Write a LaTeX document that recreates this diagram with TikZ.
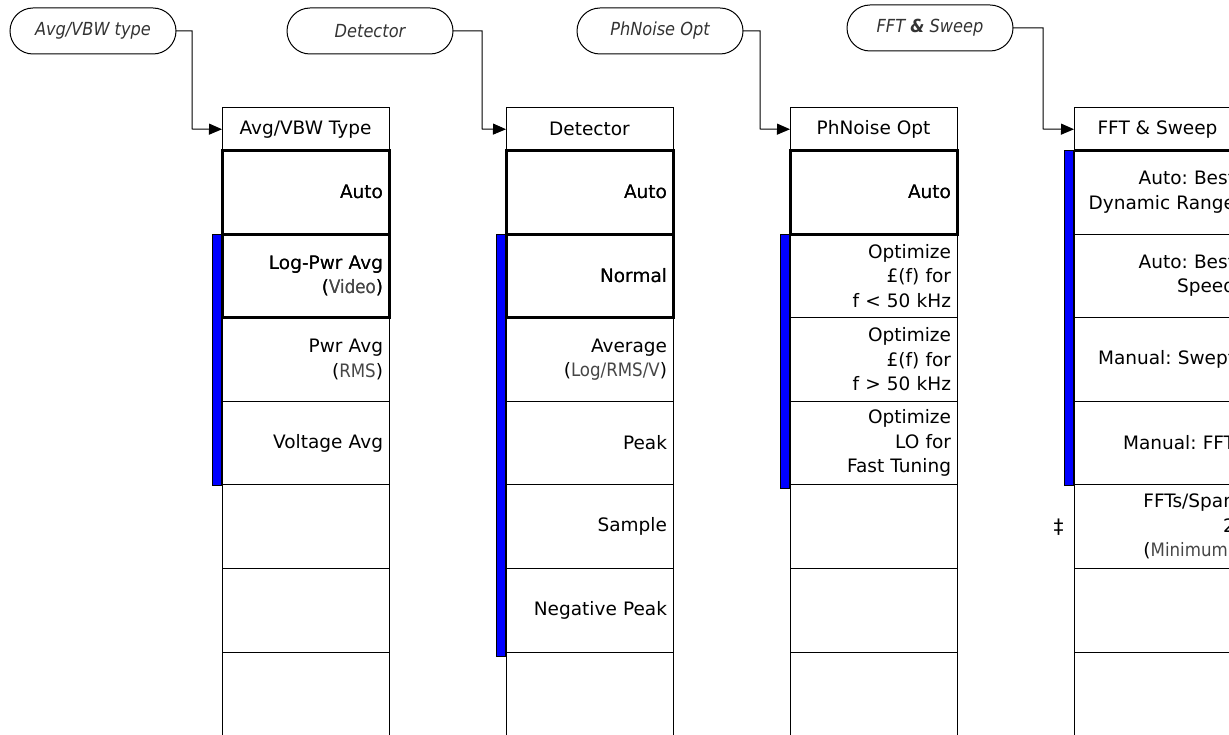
\documentclass[tikz,border=0pt]{standalone}
\usepackage{fontspec}
\setmainfont{DejaVu Sans}
\newfontfamily\condfont{DejaVu Sans Condensed}
\usetikzlibrary{arrows.meta,positioning,calc}
\definecolor{keyblue}{RGB}{0,0,255}
\definecolor{subgray}{RGB}{70,70,70}
\newcommand{\subline}[1]{({\condfont\color{subgray}#1})}
\frenchspacing

\begin{document}
\begin{tikzpicture}[
  x=1pt, y=-1pt,
  every node/.style={outer sep=0pt},
  softkey/.style={
    draw,
    line width=1pt,
    rounded corners=23pt,
    minimum width=166pt,
    minimum height=46pt,
    text=black!80,
    font=\condfont\itshape\fontsize{18}{21}\selectfont
  },
  menuhead/.style={
    draw,
    line width=1pt,
    minimum width=167pt,
    minimum height=42.5pt,
    font=\fontsize{18.5}{22}\selectfont
  },
  menukey/.style={
    draw,
    line width=1pt,
    minimum width=167pt,
    minimum height=83.6pt,
    text width=155pt,
    inner xsep=6pt,
    align=right,
    font=\fontsize{18.5}{24.5}\selectfont
  },
  active/.style={menukey,line width=3pt},
  arrow/.style={-{Triangle[length=13pt,width=11pt]},line width=1pt},
  bar/.style={fill=keyblue,draw=black,line width=0.6pt}
]
\clip (0,0) rectangle (1229,735);

% soft keys that open the menus
\node[softkey] (avgsk) at (93,31) {Avg/VBW type};
\node[softkey] (detsk) at (370,31) {Detector};
\node[softkey] (phnsk) at (660,31) {PhNoise Opt};
\node[softkey] (fftsk) at (930,28) {FFT {\bfseries\&} Sweep};

% menu headers
\node[menuhead,anchor=north west] (avg0) at (222,108) {Avg/VBW Type};
\node[menuhead,right=117pt of avg0] (det0) {Detector};
\node[menuhead,right=117pt of det0] (phn0) {PhNoise Opt};
\node[menuhead,right=117pt of phn0] (fft0) {FFT \& Sweep};

% Avg/VBW Type menu
\node[menukey,below=0pt of avg0] (avg1) {Auto};
\node[menukey,below=0pt of avg1] (avg2) {Log-Pwr Avg\\\subline{Video}};
\node[menukey,below=0pt of avg2] (avg3) {Pwr Avg\\\subline{RMS}};
\node[menukey,below=0pt of avg3] (avg4) {Voltage Avg};
\node[menukey,below=0pt of avg4] (avg5) {};
\node[menukey,below=0pt of avg5] (avg6) {};
\node[menukey,below=0pt of avg6] (avg7) {};
\node[active,at=(avg1)] {Auto};
\node[active,at=(avg2)] {Log-Pwr Avg\\\subline{Video}};

% Detector menu
\node[menukey,below=0pt of det0] (det1) {Auto};
\node[menukey,below=0pt of det1] (det2) {Normal};
\node[menukey,below=0pt of det2] (det3) {Average\\\subline{Log/RMS/V}};
\node[menukey,below=0pt of det3] (det4) {Peak};
\node[menukey,below=0pt of det4] (det5) {Sample};
\node[menukey,below=0pt of det5] (det6) {Negative Peak};
\node[menukey,below=0pt of det6] (det7) {};
\node[active,at=(det1)] {Auto};
\node[active,at=(det2)] {Normal};

% PhNoise Opt menu
\node[menukey,below=0pt of phn0] (phn1) {Auto};
\node[menukey,below=0pt of phn1] (phn2) {Optimize\\£(f) for\\f < 50 kHz};
\node[menukey,below=0pt of phn2] (phn3) {Optimize\\£(f) for\\f > 50 kHz};
\node[menukey,below=0pt of phn3] (phn4) {Optimize\\LO for\\Fast Tuning};
\node[menukey,below=0pt of phn4] (phn5) {};
\node[menukey,below=0pt of phn5] (phn6) {};
\node[menukey,below=0pt of phn6] (phn7) {};
\node[active,at=(phn1)] {Auto};

% FFT & Sweep menu
\node[menukey,below=0pt of fft0] (fft1) {Auto: Best\\Dynamic Range};
\node[menukey,below=0pt of fft1] (fft2) {Auto: Best\\Speed};
\node[menukey,below=0pt of fft2] (fft3) {Manual: Swept};
\node[menukey,below=0pt of fft3] (fft4) {Manual: FFT};
\node[menukey,below=0pt of fft4] (fft5) {FFTs/Span\\2\\\subline{Minimum}};
\node[menukey,below=0pt of fft5] (fft6) {};
\node[menukey,below=0pt of fft6] (fft7) {};
\draw[line width=3pt] (fft1.north west) -- (fft1.north east);
\node[font=\fontsize{20}{22}\selectfont,left=7pt of fft5] (fftmark) {‡};

% blue bars
\draw[bar] ($(avg2.north west)+(-9.5,0)$) rectangle ($(avg4.south west)+(-0.5,0)$);
\draw[bar] ($(det2.north west)+(-9.5,0)$) rectangle ($(det6.south west)+(-0.5,4)$);
\draw[bar] ($(phn2.north west)+(-9.5,0)$) rectangle ($(phn4.south west)+(-0.5,3)$);
\draw[bar] ($(fft1.north west)+(-9.5,0)$) rectangle ($(fft4.south west)+(-0.5,0)$);

% connectors
\coordinate (avgbend) at (192,129);
\coordinate (detbend) at (482,129);
\coordinate (phnbend) at (760,129);
\coordinate (fftbend) at (1043,129);
\draw[arrow] (avgsk.east) -| (avgbend) -- (avg0.west);
\draw[arrow] (detsk.east) -| (detbend) -- (det0.west);
\draw[arrow] (phnsk.east) -| (phnbend) -- (phn0.west);
\draw[arrow] (fftsk.east) -| (fftbend) -- (fft0.west);
\end{tikzpicture}
\end{document}
